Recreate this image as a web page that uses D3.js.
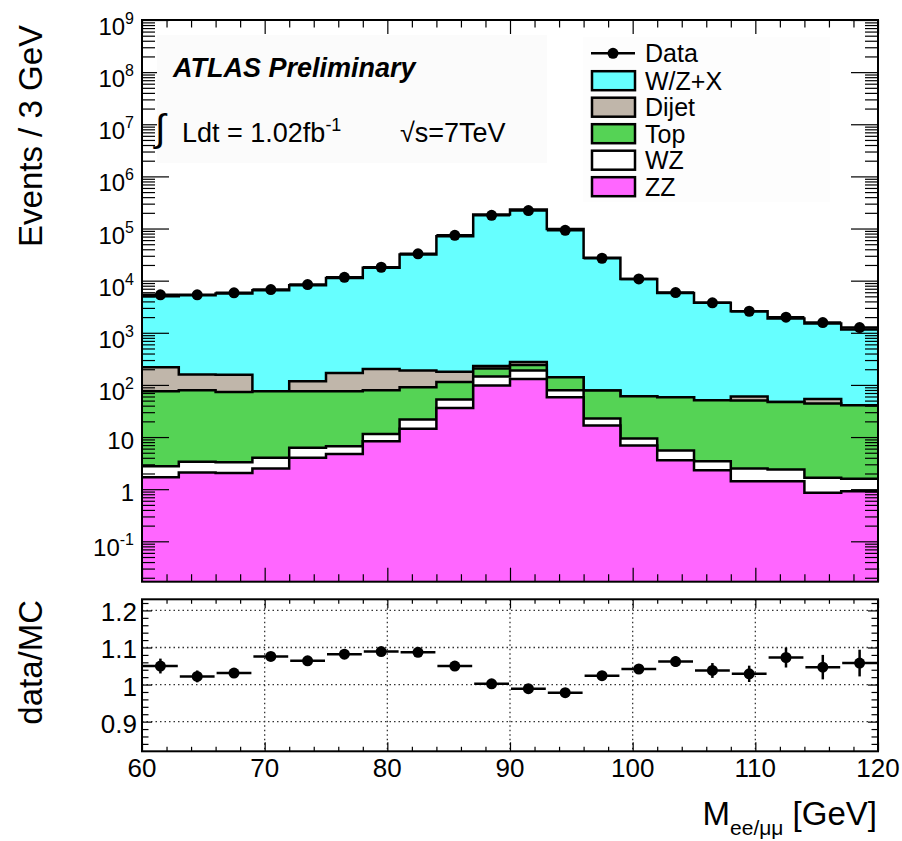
<!DOCTYPE html>
<html>
<head>
<meta charset="utf-8">
<script src="https://cdn.jsdelivr.net/npm/d3@7"></script>
<style>
body { margin: 0; background: #fff; }
text { font-family: "Liberation Sans", Arial, sans-serif; fill: #000; }
</style>
</head>
<body>
<svg id="chart" width="902" height="841"></svg>
<script>

var binLow = [60, 63, 66, 69, 72, 75, 78, 81, 84, 87, 90, 93, 96, 99, 102, 105, 108, 111, 114, 117]
var binWidth = 3

var dataEvents = [5340, 5340, 5830, 6740, 8410, 11600, 18070, 32660, 74250, 179500, 220900, 92600, 26900, 10800, 5900, 3750, 2590, 1990, 1570, 1260]

var wzx   = [4790, 5090, 5490, 6450, 8030, 11130, 17400, 31410, 70820, 184800, 230700, 98260, 27320, 10740, 5770, 3700, 2530, 1830, 1450, 1110]
var dijet = [142, 79, 84, 0, 42, 94, 124, 98, 64, 24, 34, 0, 0, 0, 0, 0, 10, 0, 10, 0]
var ttbar = [72.8, 75.5, 70.2, 71.5, 69.3, 68.9, 67.4, 68.5, 61.6, 61.5, 52, 61.1, 55.3, 51.2, 52.5, 47.4, 47.6, 44.9, 42.3, 39.1]
var wz    = [1.05, 1.27, 1.23, 1.5, 2.2, 1.9, 3.2, 7.1, 16.4, 46.5, 58.5, 20.9, 6.0, 2.5, 1.9, 1.13, 1.06, 0.96, 0.8, 0.67]
var zz    = [1.7, 2.1, 2.05, 2.5, 4.0, 4.75, 8.3, 14.5, 36, 98, 130, 58, 16.6, 6.9, 3.6, 2.3, 1.42, 1.42, 0.85, 0.91]

var ratio    = [1.050, 1.022, 1.031, 1.076, 1.064, 1.082, 1.089, 1.087, 1.050, 1.002, 0.989, 0.978, 1.024, 1.042, 1.062, 1.038, 1.029, 1.073, 1.047, 1.058]
var ratioErr = [0.020, 0.016, 0.012, 0.010, 0.010, 0.008, 0.008, 0.006, 0.005, 0.004, 0.004, 0.005, 0.007, 0.010, 0.014, 0.020, 0.022, 0.027, 0.033, 0.036]

var keys = ["ZZ", "WZ", "Top", "Dijet", "W/Z+X"]
var colors = { "ZZ": "#ff66ff", "WZ": "#ffffff", "Top": "#55d355", "Dijet": "#c0b6aa", "W/Z+X": "#66ffff" }
var legendKeys = ["W/Z+X", "Dijet", "Top", "WZ", "ZZ"]

var xTicks = [60, 70, 80, 90, 100, 110, 120]
var xMinor = [62, 64, 66, 68, 72, 74, 76, 78, 82, 84, 86, 88, 92, 94, 96, 98, 102, 104, 106, 108, 112, 114, 116, 118]
var decades = [-1, 0, 1, 2, 3, 4, 5, 6, 7, 8, 9]
var ratioTicks = [0.9, 1, 1.1, 1.2]
var ratioLabels = ["0.9", "1", "1.1", "1.2"]
var ratioMinor = [0.84, 0.86, 0.88, 0.92, 0.94, 0.96, 0.98, 1.02, 1.04, 1.06, 1.08, 1.12, 1.14, 1.16, 1.18, 1.22]


var svg = d3.select("#chart")

var x = d3.scaleLinear().domain([60, 120]).range([142, 878])
var y = d3.scaleLog().domain([0.0168, 1e9]).range([581.7, 20])
var yr = d3.scaleLinear().domain([0.82, 1.23]).range([751.3, 599.3])

var rows = binLow.map(function(lo, i) {
    return { lo: lo, "ZZ": zz[i], "WZ": wz[i], "Top": ttbar[i], "Dijet": dijet[i], "W/Z+X": wzx[i] }
})

var stacked = d3.stack().keys(keys)(rows)

var line = d3.line()

function steps(series) {
    var pts = []
    series.forEach(function(d) {
        pts.push([x(d.data.lo), y(d[1])])
        pts.push([x(d.data.lo + binWidth), y(d[1])])
    })
    return pts
}

// stacked histograms, drawn from the largest down
var hist = svg.append("g")

stacked.slice().reverse().forEach(function(s) {
    var pts = steps(s)
    var area = [[x(60), y.range()[0]]].concat(pts).concat([[x(120), y.range()[0]]])
    hist.append("path")
        .attr("d", line(area) + "Z")
        .attr("fill", colors[s.key])
        .attr("stroke", "none")
    hist.append("path")
        .attr("d", line(pts))
        .attr("fill", "none")
        .attr("stroke", "#000")
        .attr("stroke-width", 2.5)
})

// data points
var pts = svg.append("g")

pts.selectAll("line")
    .data(dataEvents)
    .enter()
    .append("line")
    .attr("x1", function(d, i) { return x(binLow[i]) })
    .attr("x2", function(d, i) { return x(binLow[i] + binWidth) })
    .attr("y1", function(d) { return y(d) })
    .attr("y2", function(d) { return y(d) })
    .attr("stroke", "#000")
    .attr("stroke-width", 2.5)

pts.selectAll("circle")
    .data(dataEvents)
    .enter()
    .append("circle")
    .attr("cx", function(d, i) { return x(binLow[i] + binWidth / 2) })
    .attr("cy", function(d) { return y(d) })
    .attr("r", 5.5)
    .attr("fill", "#000")

// top panel axes
var minorY = []
decades.forEach(function(e) {
    for (var k = 2; k <= 9; k++) {
        var v = k * Math.pow(10, e - 1)
        if (v > 0.0168 && v < 1e9) minorY.push(v)
    }
})
var majorY = decades.map(function(e) { return Math.pow(10, e) })

function clean(g) {
    g.select(".domain").remove()
    g.selectAll("line").attr("stroke", "#000").attr("stroke-width", 1.2)
}

svg.append("g").attr("transform", "translate(142,0)")
    .call(d3.axisLeft(y).tickValues(majorY).tickSize(-27).tickFormat(""))
    .call(clean)
svg.append("g").attr("transform", "translate(142,0)")
    .call(d3.axisLeft(y).tickValues(minorY).tickSize(-13).tickFormat(""))
    .call(clean)
svg.append("g").attr("transform", "translate(878,0)")
    .call(d3.axisRight(y).tickValues(majorY).tickSize(-27).tickFormat(""))
    .call(clean)
svg.append("g").attr("transform", "translate(878,0)")
    .call(d3.axisRight(y).tickValues(minorY).tickSize(-13).tickFormat(""))
    .call(clean)

svg.append("g").attr("transform", "translate(0,581.7)")
    .call(d3.axisBottom(x).tickValues(xTicks).tickSize(-14).tickFormat(""))
    .call(clean)
svg.append("g").attr("transform", "translate(0,581.7)")
    .call(d3.axisBottom(x).tickValues(xMinor).tickSize(-7.5).tickFormat(""))
    .call(clean)
svg.append("g").attr("transform", "translate(0,20)")
    .call(d3.axisTop(x).tickValues(xTicks).tickSize(-14).tickFormat(""))
    .call(clean)
svg.append("g").attr("transform", "translate(0,20)")
    .call(d3.axisTop(x).tickValues(xMinor).tickSize(-7.5).tickFormat(""))
    .call(clean)

var yLab = svg.append("g")
decades.forEach(function(e) {
    var ty = y(Math.pow(10, e))
    var t = yLab.append("text")
        .attr("x", 134)
        .attr("text-anchor", "end")
        .attr("font-size", "24px")
    if (e == 0 || e == 1) {
        t.attr("y", ty + 12).text(e == 0 ? "1" : "10")
    } else {
        t.attr("y", ty + 15)
        t.append("tspan").text("10")
        t.append("tspan").attr("dy", -11).attr("font-size", "16px").text(e)
    }
})

// text box and legend
svg.append("rect")
    .attr("x", 157).attr("y", 35)
    .attr("width", 390).attr("height", 128)
    .attr("fill", "#fbfbfb")

svg.append("text")
    .attr("x", 173).attr("y", 77)
    .attr("font-size", "27px")
    .attr("font-weight", "bold")
    .attr("font-style", "italic")
    .text("ATLAS Preliminary")

svg.append("text")
    .attr("x", 155).attr("y", 141)
    .attr("font-size", "38px")
    .text("\u222B")

var lumi = svg.append("text")
    .attr("x", 182).attr("y", 142)
    .attr("font-size", "27px")
lumi.append("tspan").text("Ldt = 1.02fb")
lumi.append("tspan").attr("dy", -11).attr("font-size", "18px").text("-1")

svg.append("text")
    .attr("x", 400).attr("y", 142)
    .attr("font-size", "27px")
    .text("\u221As=7TeV")

var legend = svg.append("g")

legend.append("rect")
    .attr("x", 583).attr("y", 37)
    .attr("width", 247).attr("height", 165)
    .attr("fill", "#fdfdfd")

legend.append("line")
    .attr("x1", 591).attr("x2", 635)
    .attr("y1", 53.3).attr("y2", 53.3)
    .attr("stroke", "#000").attr("stroke-width", 2.5)
legend.append("circle")
    .attr("cx", 613).attr("cy", 53.3).attr("r", 5.5)
legend.append("text")
    .attr("x", 645).attr("y", 62.3)
    .attr("font-size", "25px")
    .text("Data")

legendKeys.forEach(function(k, i) {
    var cy = 80.7 + i * 26.5
    legend.append("rect")
        .attr("x", 592).attr("y", cy - 9.5)
        .attr("width", 43).attr("height", 19)
        .attr("fill", colors[k])
        .attr("stroke", "#000").attr("stroke-width", 2.5)
    legend.append("text")
        .attr("x", 645).attr("y", cy + 9)
        .attr("font-size", "25px")
        .text(k)
})

svg.append("rect")
    .attr("x", 142).attr("y", 20)
    .attr("width", 736).attr("height", 561.7)
    .attr("fill", "none")
    .attr("stroke", "#000").attr("stroke-width", 2)

svg.append("text")
    .attr("transform", "translate(42,25) rotate(-90)")
    .attr("text-anchor", "end")
    .attr("font-size", "33px")
    .text("Events / 3 GeV")

// ratio panel
var rp = svg.append("g")

rp.selectAll(".hgrid")
    .data(ratioTicks)
    .enter()
    .append("line")
    .attr("x1", 142).attr("x2", 878)
    .attr("y1", function(d) { return yr(d) })
    .attr("y2", function(d) { return yr(d) })
    .attr("stroke", "#333").attr("stroke-width", 1.3)
    .attr("stroke-dasharray", "1.5,3")

rp.selectAll(".vgrid")
    .data(xTicks.slice(1, -1))
    .enter()
    .append("line")
    .attr("x1", function(d) { return x(d) })
    .attr("x2", function(d) { return x(d) })
    .attr("y1", 599.3).attr("y2", 751.3)
    .attr("stroke", "#333").attr("stroke-width", 1.3)
    .attr("stroke-dasharray", "1.5,3")

rp.append("g").attr("transform", "translate(142,0)")
    .call(d3.axisLeft(yr).tickValues(ratioTicks).tickSize(-10).tickFormat(""))
    .call(clean)
rp.append("g").attr("transform", "translate(142,0)")
    .call(d3.axisLeft(yr).tickValues(ratioMinor).tickSize(-6.5).tickFormat(""))
    .call(clean)
rp.append("g").attr("transform", "translate(878,0)")
    .call(d3.axisRight(yr).tickValues(ratioTicks).tickSize(-10).tickFormat(""))
    .call(clean)
rp.append("g").attr("transform", "translate(878,0)")
    .call(d3.axisRight(yr).tickValues(ratioMinor).tickSize(-6.5).tickFormat(""))
    .call(clean)
rp.append("g").attr("transform", "translate(0,751.3)")
    .call(d3.axisBottom(x).tickValues(xTicks).tickSize(-9).tickFormat(""))
    .call(clean)
rp.append("g").attr("transform", "translate(0,751.3)")
    .call(d3.axisBottom(x).tickValues(xMinor).tickSize(-4.5).tickFormat(""))
    .call(clean)
rp.append("g").attr("transform", "translate(0,599.3)")
    .call(d3.axisTop(x).tickValues(xTicks).tickSize(-9).tickFormat(""))
    .call(clean)
rp.append("g").attr("transform", "translate(0,599.3)")
    .call(d3.axisTop(x).tickValues(xMinor).tickSize(-4.5).tickFormat(""))
    .call(clean)

rp.selectAll(".rlab")
    .data(ratioTicks)
    .enter()
    .append("text")
    .attr("x", 137)
    .attr("y", function(d) { return yr(d) + 11 })
    .attr("text-anchor", "end")
    .attr("font-size", "26px")
    .text(function(d, i) { return ratioLabels[i] })

rp.selectAll(".xlab")
    .data(xTicks)
    .enter()
    .append("text")
    .attr("x", function(d) { return x(d) })
    .attr("y", 777)
    .attr("text-anchor", "middle")
    .attr("font-size", "26px")
    .text(function(d) { return d })

rp.selectAll(".rx")
    .data(ratio)
    .enter()
    .append("line")
    .attr("x1", function(d, i) { return x(binLow[i]) + 1 })
    .attr("x2", function(d, i) { return x(binLow[i] + binWidth) - 1 })
    .attr("y1", function(d) { return yr(d) })
    .attr("y2", function(d) { return yr(d) })
    .attr("stroke", "#000").attr("stroke-width", 2.5)

rp.selectAll(".ry")
    .data(ratio)
    .enter()
    .append("line")
    .attr("x1", function(d, i) { return x(binLow[i] + binWidth / 2) })
    .attr("x2", function(d, i) { return x(binLow[i] + binWidth / 2) })
    .attr("y1", function(d, i) { return yr(d - ratioErr[i]) })
    .attr("y2", function(d, i) { return yr(d + ratioErr[i]) })
    .attr("stroke", "#000").attr("stroke-width", 2.5)

rp.selectAll("circle")
    .data(ratio)
    .enter()
    .append("circle")
    .attr("cx", function(d, i) { return x(binLow[i] + binWidth / 2) })
    .attr("cy", function(d) { return yr(d) })
    .attr("r", 5.5)
    .attr("fill", "#000")

rp.append("rect")
    .attr("x", 142).attr("y", 599.3)
    .attr("width", 736).attr("height", 152)
    .attr("fill", "none")
    .attr("stroke", "#000").attr("stroke-width", 2)

svg.append("text")
    .attr("transform", "translate(42,600) rotate(-90)")
    .attr("text-anchor", "end")
    .attr("font-size", "33px")
    .text("data/MC")

var xt = svg.append("text")
    .attr("x", 877).attr("y", 825)
    .attr("text-anchor", "end")
    .attr("font-size", "33px")
xt.append("tspan").text("M")
xt.append("tspan").attr("dy", 10).attr("font-size", "21px").text("ee/\u03BC\u03BC")
xt.append("tspan").attr("dy", -10).text(" [GeV]")

</script>
</body>
</html>
